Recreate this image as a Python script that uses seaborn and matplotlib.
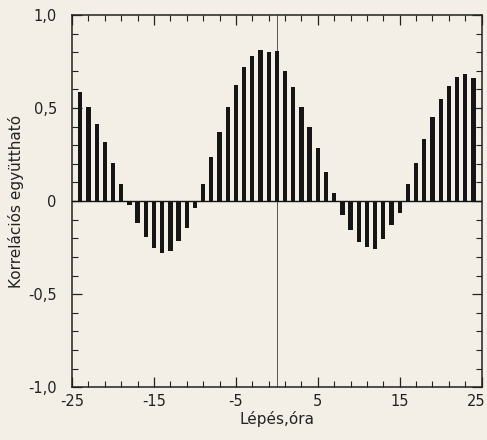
import matplotlib
matplotlib.use("Agg")
import matplotlib.pyplot as plt
import matplotlib.transforms as mtransforms
import seaborn as sns
import numpy as np
import pandas as pd

lags = list(range(-24, 25))
corr = [0.584, 0.504, 0.414, 0.315, 0.206, 0.091, -0.023, -0.118, -0.194, -0.253,
        -0.280, -0.269, -0.217, -0.145, -0.039, 0.090, 0.235, 0.373, 0.507, 0.624,
        0.722, 0.781, 0.812, 0.799, 0.806, 0.700, 0.613, 0.507, 0.400, 0.283,
        0.154, 0.041, -0.077, -0.154, -0.220, -0.247, -0.256, -0.203, -0.127, -0.063,
        0.091, 0.203, 0.333, 0.450, 0.547, 0.618, 0.665, 0.681, 0.663]
xtick_vals = [-25, -15, -5, 5, 15, 25]
xtick_labels = ["-25", "-15", "-5", "5", "15", "25"]
ytick_vals = [-1.0, -0.5, 0.0, 0.5, 1.0]
ytick_labels = ["-1,0", "-0,5", "0", "0,5", "1,0"]

sns.set_style("ticks")
plt.rcParams['font.family'] = ['DejaVu Sans']
bg = '#f3efe6'
fig = plt.figure(figsize=(4.87, 4.40), dpi=100, facecolor=bg)
ax = fig.add_axes([0.148, 0.12, 0.841, 0.846])
ax.set_facecolor(bg)

df = pd.DataFrame({"lag": lags, "corr": corr})
sns.barplot(data=df, x="lag", y="corr", native_scale=True, width=0.52,
            color='#151515', saturation=1, ax=ax, linewidth=0, zorder=3)

ax.axvline(0, color='#555555', lw=0.7, zorder=2)
ax.axhline(0, color='#151515', lw=1.0, zorder=4)

ax.set_xlim(-25, 25)
ax.set_ylim(-1.0, 1.0)
ax.set_xticks(xtick_vals)
ax.set_xticklabels(xtick_labels)
ax.set_yticks(ytick_vals)
ax.set_yticklabels(ytick_labels)
ax.set_xticks(np.arange(-23, 25, 2), minor=True)
ax.set_yticks(np.arange(-0.9, 1.0, 0.1), minor=True)
ax.tick_params(which='both', direction='in', top=True, right=True, colors='#222222',
               labelcolor='#222222', labelsize=10.5)
ax.tick_params(which='major', length=7, width=0.9)
ax.tick_params(which='minor', length=4, width=0.8)
ax.tick_params(axis='y', pad=11)
ax.tick_params(axis='x', pad=5)
for s in ax.spines.values():
    s.set_color('#222222')
    s.set_linewidth(1.1)

last = ax.get_xticklabels()[-1]
last.set_transform(last.get_transform() + mtransforms.ScaledTranslation(-5/100, 0, fig.dpi_scale_trans))

ax.set_xlabel("Lépés,óra", fontsize=11, color='#222222', labelpad=1)
ax.set_ylabel("Korrelációs együttható", fontsize=11, color='#222222')
ax.yaxis.set_label_coords(-0.117, 0.5)

fig.savefig("out.png", dpi=100, facecolor=bg)
